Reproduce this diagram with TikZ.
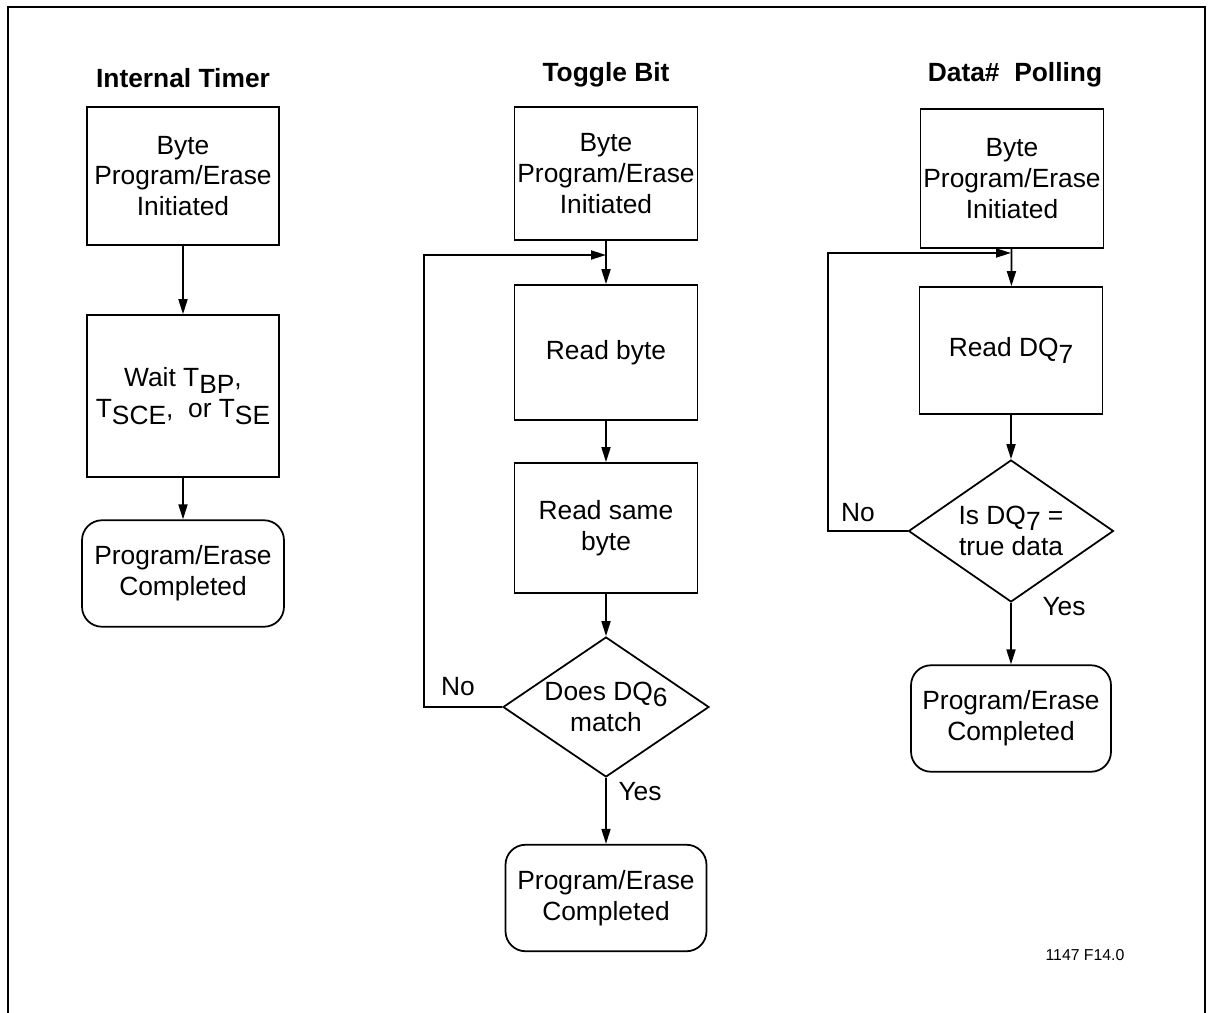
\documentclass[tikz,border=0pt]{standalone}
\usepackage{fontspec}
\setmainfont{Liberation Sans}
\usepackage{tikz}
\usetikzlibrary{shapes.geometric}
\usetikzlibrary{arrows.meta}
\newcommand{\lowsub}[1]{\raisebox{-0.45ex}{#1}}

\begin{document}
\begin{tikzpicture}[x = .02cm, y = -.02cm, line width = 1pt,
  every node/.style = {font = \fontsize{15}{17.6}\selectfont},
  title/.style = {font = \fontsize{15}{17.6}\selectfont\bfseries},
  box/.style = {draw, rectangle, minimum width = 3.66cm, align = center, inner sep = 0},
  done/.style = {draw, rounded corners = .4cm, minimum width = 4.02cm, minimum height = 2.13cm, align = center},
  test/.style = {draw, diamond, aspect = 1.47, minimum width = 4.12cm, minimum height = 2.8cm, inner sep = -4pt, align = center},
  arr/.style = {-{Triangle[length = .3cm, width = .18cm]}}]
  \useasboundingbox (0, 0) rectangle (1213, 1013);
  \draw (8, 1013) -- (8, 7) -- (1205, 7) -- (1205, 1013);
  % Internal Timer
  \node[title] (title1) at (183, 78) {Internal Timer};
  \node[box, minimum width = 3.84cm, minimum height = 2.76cm] (start1) at (183, 176) {Byte\\Program/Erase\\Initiated};
  \node[box, minimum width = 3.84cm, minimum height = 3.24cm] (wait1) at (183, 396) {Wait T\lowsub{BP},\\T\lowsub{SCE}, \ or T\lowsub{SE}};
  \node[done, minimum width = 4.04cm] (end1) at (183, 573.5) {Program/Erase\\Completed};
  \draw[arr] (start1) -- (wait1);
  \draw[arr] (wait1) -- (end1);
  % Toggle Bit
  \node[title] (title2) at (606, 75) {Toggle Bit};
  \node[box, minimum height = 2.66cm] (start2) at (606, 173.5) {Byte\\Program/Erase\\Initiated};
  \node[box, minimum height = 2.7cm] (read2) at (606, 352.5) {Read byte};
  \node[box, minimum height = 2.6cm] (same2) at (606, 528) {Read same\\byte};
  \node[test] (test2) at (606, 707) {Does DQ\lowsub{6}\\match};
  \node[done] (end2) at (606, 898) {Program/Erase\\Completed};
  \node (no2) at (458, 687) {No};
  \node (yes2) at (640, 792) {Yes};
  \coordinate (k2) at (424, 255);
  \coordinate (j2) at (606, 255);
  \draw[arr] (start2) -- (read2);
  \draw[arr] (read2) -- (same2);
  \draw[arr] (same2) -- (test2);
  \draw[arr] (test2) -- (end2);
  \draw[arr] (test2.west) -| (k2) -- (j2);
  % Data# Polling
  \node[title] (title3) at (1015, 75) {Data\#\ \ Polling};
  \node[box, minimum height = 2.78cm] (start3) at (1012, 178.5) {Byte\\Program/Erase\\Initiated};
  \node[box, minimum height = 2.54cm] (read3) at (1011, 350.5) {Read DQ\lowsub{7}};
  \node[test, minimum width = 4.1cm, minimum height = 2.84cm] (test3) at (1011, 531) {Is DQ\lowsub{7} =\\true data};
  \node[done, minimum width = 4cm] (end3) at (1011, 718.5) {Program/Erase\\Completed};
  \node (no3) at (858, 513) {No};
  \node (yes3) at (1064, 607) {Yes};
  \coordinate (k3) at (828, 253);
  \coordinate (j3) at (1011, 253);
  \draw[arr] (start3) -- (read3);
  \draw[arr] (read3) -- (test3);
  \draw[arr] (test3) -- (end3);
  \draw[arr] (test3.west) -| (k3) -- (j3);
  \node[font = \fontsize{9}{11}\selectfont] (fig) at (1085, 955) {1147 F14.0};
\end{tikzpicture}
\end{document}
